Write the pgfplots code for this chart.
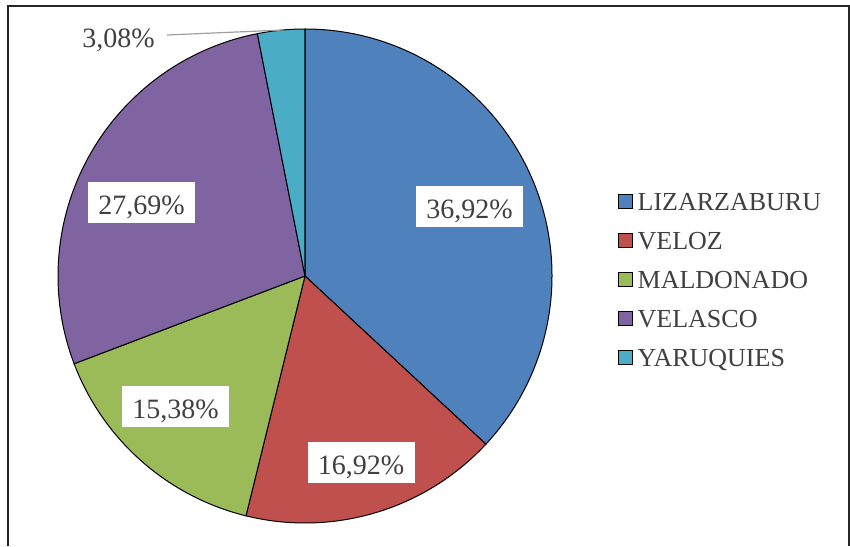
\documentclass[border=0pt]{standalone}
\usepackage{pgfplots}
\pgfplotsset{compat=1.18}
\usepackage{fontspec}
\setmainfont{Liberation Serif}

\definecolor{lizblue}{HTML}{4F81BD}
\definecolor{velred}{HTML}{C0504D}
\definecolor{malgreen}{HTML}{9BBB59}
\definecolor{velpurple}{HTML}{8064A2}
\definecolor{yarteal}{HTML}{4BACC6}
\definecolor{textgray}{HTML}{404040}
\definecolor{leadgray}{HTML}{A0A0A0}

\tikzset{lbl/.style={fill=white, text=textgray, font=\fontsize{14}{16}\selectfont,
    minimum width=53.5pt, minimum height=20.5pt, inner sep=0pt,
    text height=12pt, text depth=0pt}}

% shares in %, clockwise from 12 o'clock
\def\shares{36.92/lizblue,16.92/velred,15.38/malgreen,27.69/velpurple,3.08/yarteal}

\begin{document}
\begin{tikzpicture}
\begin{axis}[
    width=425pt, height=273pt, scale only axis,
    xmin=0, xmax=850, ymin=0, ymax=546,
    hide axis, clip=false,
    legend image code/.code={\draw[#1] (0pt,-3.3pt) rectangle (6.6pt,3.3pt);},
    legend style={at={(axis description cs:0.7271,0.4881)}, anchor=west,
        draw=none, fill=none, inner sep=0pt, row sep=10.5pt,
        font=\fontsize{13}{15}\selectfont, text=textgray,
        nodes={inner xsep=2.5pt, inner ysep=0pt, text height=9pt, text depth=0pt}},
    legend cell align={left},
]
% whole canvas
\path (axis cs:0,0) rectangle (axis cs:850,546);
% pie slices
\pgfplotsextra{
  \gdef\pieangle{90}
  \foreach \v/\c in \shares {
    \pgfmathsetmacro\pieend{\pieangle-3.6*\v}
    \filldraw[fill=\c, draw=black, line width=0.5pt]
      (axis cs:305,270) -- ++(\pieangle:123.5pt)
      arc[start angle=\pieangle, end angle=\pieend, radius=123.5pt] -- cycle;
    \global\let\pieangle\pieend
  }
}
% data labels
\node[lbl] at (axis cs:469.5,339.5) {36,92\%};
\node[lbl] at (axis cs:361,83.5) {16,92\%};
\node[lbl] at (axis cs:175.5,139.5) {15,38\%};
\node[lbl] at (axis cs:141.5,343.5) {27,69\%};
\draw[leadgray, line width=0.6pt] (axis cs:167,511) -- (axis cs:283,516);
\node[text=textgray, font=\fontsize{14}{16}\selectfont, inner sep=0pt,
      anchor=east] at (axis cs:155,506) {3,08\%};
% chart frame (bottom edge outside the picture)
\draw[black!85, line width=0.8pt] (axis cs:8,0) -- (axis cs:8,540)
     -- (axis cs:849,540) -- (axis cs:849,0);
% legend
\addlegendimage{fill=lizblue, draw=black, line width=0.5pt}
\addlegendentry{LIZARZABURU}
\addlegendimage{fill=velred, draw=black, line width=0.5pt}
\addlegendentry{VELOZ}
\addlegendimage{fill=malgreen, draw=black, line width=0.5pt}
\addlegendentry{MALDONADO}
\addlegendimage{fill=velpurple, draw=black, line width=0.5pt}
\addlegendentry{VELASCO}
\addlegendimage{fill=yarteal, draw=black, line width=0.5pt}
\addlegendentry{YARUQUIES}
\end{axis}
\end{tikzpicture}
\end{document}
